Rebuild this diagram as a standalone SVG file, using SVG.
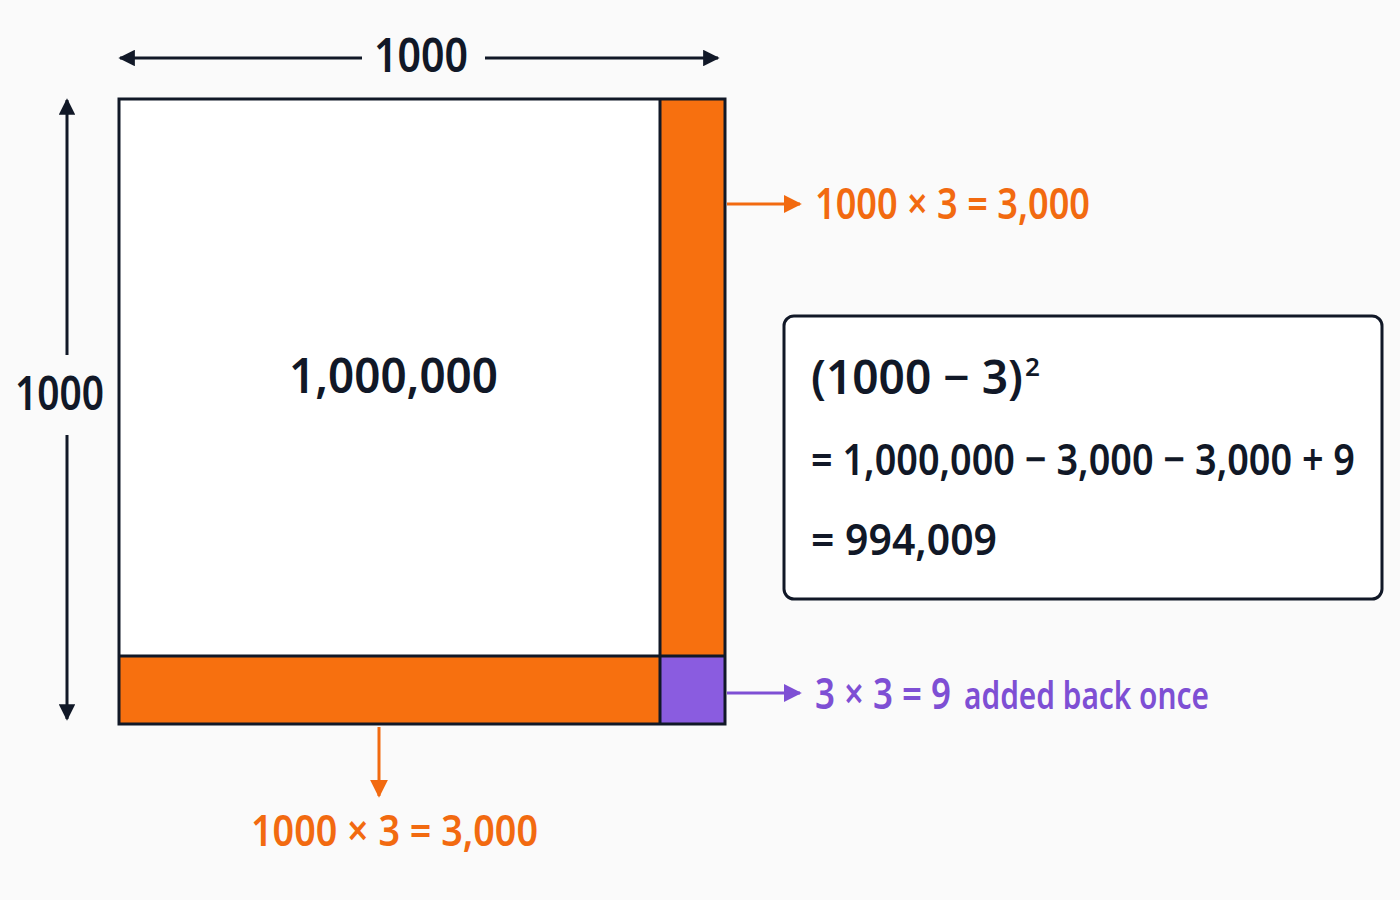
<svg xmlns="http://www.w3.org/2000/svg" width="1400" height="900" viewBox="0 0 1400 900">
<style>
text{font-family:"Noto Sans","Open Sans","Liberation Sans",sans-serif;font-weight:600}
.dk{fill:#111827}
.or{fill:#F26A10}
.pu{fill:#7E4FD4}
.ln{stroke:#111827;stroke-width:3;fill:none}
</style>
<defs>
<marker id="ad" viewBox="0 0 10 10" refX="9" refY="5" markerWidth="5.5" markerHeight="5.5" orient="auto"><path d="M0,0L10,5L0,10z" fill="#111827"/></marker>
<marker id="ao" viewBox="0 0 10 10" refX="9" refY="5" markerWidth="6" markerHeight="6" orient="auto"><path d="M0,0L10,5L0,10z" fill="#F26A10"/></marker>
<marker id="ap" viewBox="0 0 10 10" refX="9" refY="5" markerWidth="6" markerHeight="6" orient="auto"><path d="M0,0L10,5L0,10z" fill="#7E4FD4"/></marker>
</defs>
<rect width="1400" height="900" fill="#fafafa"/>
<g id="square">
<rect x="119" y="99" width="606" height="625" fill="#ffffff"/>
<rect x="660" y="99" width="65" height="557" fill="#F7700F"/>
<rect x="119" y="656" width="541" height="68" fill="#F7700F"/>
<rect x="660" y="656" width="65" height="68" fill="#8A5CE0"/>
<line class="ln" x1="660" y1="99" x2="660" y2="724"/>
<line class="ln" x1="119" y1="656" x2="725" y2="656"/>
<rect class="ln" x="119" y="99" width="606" height="625"/>
<text class="dk" x="289" y="393" font-size="48" textLength="209" lengthAdjust="spacingAndGlyphs">1,000,000</text>
</g>
<g id="formula">
<rect x="784" y="316" width="598" height="283" rx="10" fill="#ffffff" stroke="#111827" stroke-width="3"/>
<text class="dk" x="811" y="394" font-size="46" textLength="212" lengthAdjust="spacingAndGlyphs">(1000 − 3)</text>
<text class="dk" x="1025" y="376" font-size="26">2</text>
<text class="dk" x="811" y="475" font-size="44" textLength="544" lengthAdjust="spacingAndGlyphs">= 1,000,000 − 3,000 − 3,000 + 9</text>
<text class="dk" x="811" y="555" font-size="44" textLength="186" lengthAdjust="spacingAndGlyphs">= 994,009</text>
</g>
<g id="labels">
<text class="dk" x="374" y="72" font-size="47" textLength="94" lengthAdjust="spacingAndGlyphs">1000</text>
<text class="dk" x="15" y="410" font-size="46" textLength="89" lengthAdjust="spacingAndGlyphs">1000</text>
<text class="or" x="815" y="219" font-size="43" textLength="275" lengthAdjust="spacingAndGlyphs">1000 × 3 = 3,000</text>
<text class="or" x="251" y="846" font-size="43" textLength="287" lengthAdjust="spacingAndGlyphs">1000 × 3 = 3,000</text>
<text class="pu" x="815" y="709" font-size="43" textLength="136" lengthAdjust="spacingAndGlyphs">3 × 3 = 9</text>
<text class="pu" x="964" y="709" font-size="38" textLength="245" lengthAdjust="spacingAndGlyphs">added back once</text>
</g>
<g id="connectors">
<line x1="362" y1="58" x2="120" y2="58" stroke="#111827" stroke-width="3" marker-end="url(#ad)"/>
<line x1="485" y1="58" x2="718" y2="58" stroke="#111827" stroke-width="3" marker-end="url(#ad)"/>
<line x1="67" y1="355" x2="67" y2="100" stroke="#111827" stroke-width="3" marker-end="url(#ad)"/>
<line x1="67" y1="435" x2="67" y2="719" stroke="#111827" stroke-width="3" marker-end="url(#ad)"/>
<line x1="727" y1="204" x2="800" y2="204" stroke="#F26A10" stroke-width="3" marker-end="url(#ao)"/>
<line x1="727" y1="693" x2="800" y2="693" stroke="#7E4FD4" stroke-width="3" marker-end="url(#ap)"/>
<line x1="379" y1="727" x2="379" y2="796" stroke="#F26A10" stroke-width="3" marker-end="url(#ao)"/>
</g>
</svg>
